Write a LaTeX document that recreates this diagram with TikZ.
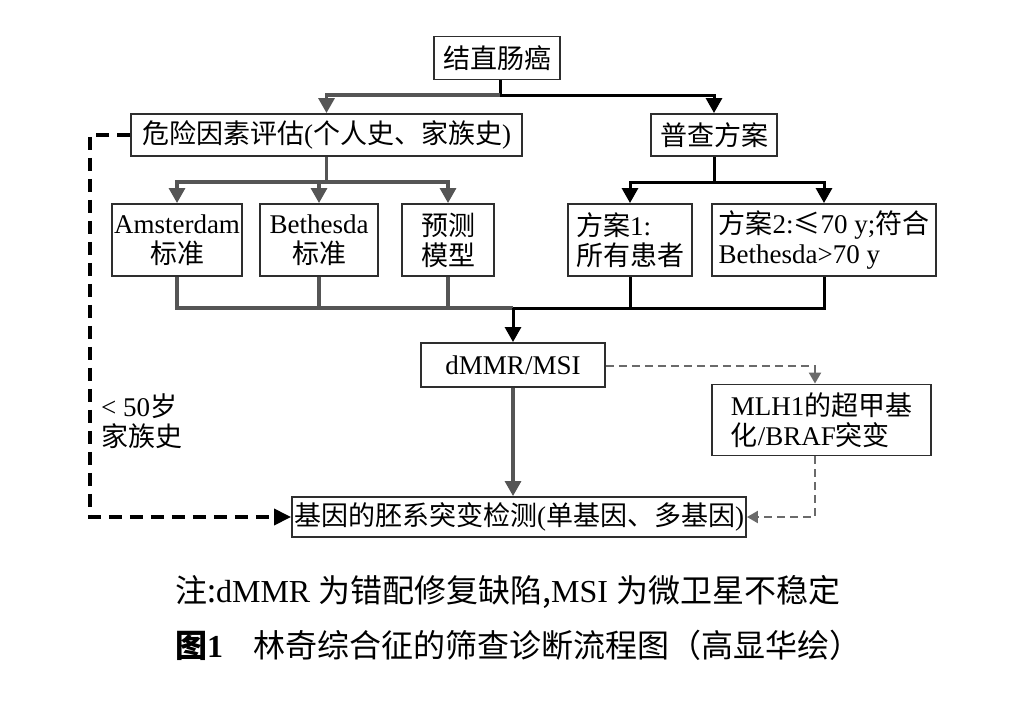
\documentclass[tikz,border=0pt]{standalone}
\usepackage{fontspec}
\setmainfont{Liberation Serif}
\newfontfamily\cjk{Noto Sans CJK SC}
\usetikzlibrary{arrows.meta}
\newcommand\ZH[1]{{\cjk #1}}
\definecolor{lg}{HTML}{555555}
\definecolor{dg}{HTML}{6A6A6A}
\definecolor{bx}{HTML}{2E2E2E}
\begin{document}
\begin{tikzpicture}[x=1pt,y=-1pt,
  box/.style={draw=bx,line width=1.9pt,inner sep=0pt,align=center,
    font=\fontsize{27pt}{30pt}\selectfont},
  gl/.style={draw=lg,line width=3.2pt},
  bl/.style={draw=black,line width=3pt},
  tip/.style={-{Triangle[width=16pt,length=15pt]}},
  gdash/.style={draw=dg,line width=2.2pt,dash pattern=on 8pt off 5pt},
  kdash/.style={draw=black,line width=3.6pt,dash pattern=on 13pt off 8pt},
  note/.style={font=\fontsize{32pt}{36pt}\selectfont,anchor=west,inner sep=0pt}
]
\useasboundingbox (0,0) rectangle (1017,723);

% boxes
\node[box,minimum width=126pt,minimum height=43pt] (top) at (497,58) {\ZH{结直肠癌}};
\node[box,minimum width=391pt,minimum height=42pt] (risk) at (326.5,135) {\ZH{危险因素评估}(\ZH{个人史、家族史})};
\node[box,minimum width=126pt,minimum height=42pt] (screen) at (714,135) {\ZH{普查方案}};
\node[box,minimum width=130pt,minimum height=72pt] (ams) at (177,240) {Amsterdam\\\ZH{标准}};
\node[box,minimum width=118pt,minimum height=72pt] (beth) at (319,240) {Bethesda\\\ZH{标准}};
\node[box,minimum width=92pt,minimum height=72pt] (pred) at (448,240) {\ZH{预测}\\\ZH{模型}};
\node[box,minimum width=124pt,minimum height=72pt,align=left] (p1) at (630,240) {\ZH{方案}1:\\\ZH{所有患者}};
\node[box,minimum width=224pt,minimum height=72pt,align=left] (p2) at (824,240) {\ZH{方案}2:\ZH{≤}70 y;\ZH{符合}\\Bethesda>70 y};
\node[box,minimum width=184pt,minimum height=44pt] (dmmr) at (513,365) {dMMR/MSI};
\node[box,minimum width=219pt,minimum height=71pt,align=left] (mlh) at (821.5,420) {MLH1\ZH{的超甲基}\\\ZH{化}/BRAF\ZH{突变}};
\node[box,minimum width=454pt,minimum height=40pt] (gene) at (519,517) {\ZH{基因的胚系突变检测}(\ZH{单基因、多基因})};

\node[font=\fontsize{27pt}{30pt}\selectfont,align=left,anchor=west,inner sep=0pt] (age) at (101,421) {< 50\ZH{岁}\\\ZH{家族史}};

% junctions
\coordinate (j1) at (500,95);
\coordinate (j2) at (326.5,182);
\coordinate (j3) at (714,182);
\coordinate (j4) at (513,308);
\coordinate (jl) at (90,135);
\coordinate (jb) at (90,517);
\coordinate (mtop) at (815,366);
\coordinate (mbot) at (815,517);

% top level
\draw[bl] (top.south -| j1) -- (j1);
\draw[gl,tip] (j1) -| (risk.north);
\draw[bl,tip] (j1) -| (screen.north);

% risk branch
\draw[gl] (risk.south) -- (j2);
\draw[gl,tip] (j2) -| (ams.north);
\draw[gl,tip] (j2) -- (beth.north |- j2) -- (beth.north);
\draw[gl,tip] (j2) -| (pred.north);

% screen branch
\draw[bl] (screen.south) -- (j3);
\draw[bl,tip] (j3) -| (p1.north);
\draw[bl,tip] (j3) -| (p2.north);

% merge to dMMR
\draw[gl] (ams.south) |- (j4);
\draw[gl] (beth.south) -- (beth.south |- j4);
\draw[gl] (pred.south) -- (pred.south |- j4);
\draw[bl] (p2.south) |- (j4);
\draw[bl] (p1.south) -- (p1.south |- j4);
\draw[bl,tip] (j4) -- (dmmr.north);

% dMMR to gene
\draw[gl,tip] (dmmr.south) -- (gene.north -| dmmr.south);

% dashed to MLH1
\draw[gdash,-{Triangle[width=12pt,length=11pt]}] (dmmr.east |- mtop) -- (mtop) -- (mlh.north -| mtop);
\draw[gdash,-{Triangle[width=12pt,length=11pt]}] (mlh.south -| mbot) -- (mbot) -- (gene.east);

% left dashed
\draw[kdash,-{Triangle[width=16pt,length=17pt]}] (risk.west) -- (jl) -- (jb) -- (gene.west);

% caption
\node[note] (n1) at (175,592) {\ZH{注:}dMMR \ZH{为错配修复缺陷,}MSI \ZH{为微卫星不稳定}};
\node[note] (n2) at (175,645) {{\cjk\bfseries 图}\textbf{1}\hspace{30pt}\ZH{林奇综合征的筛查诊断流程图（高显华绘）}};
\end{tikzpicture}
\end{document}
